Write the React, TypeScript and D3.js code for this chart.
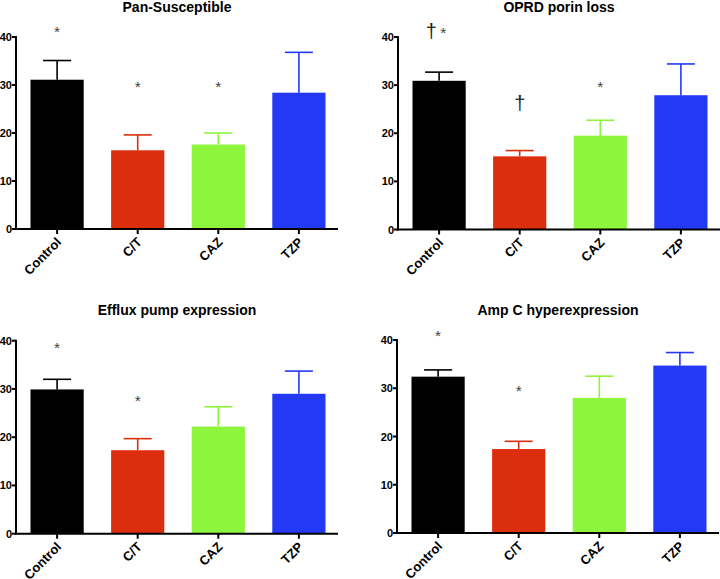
import React from "react";
import * as d3 from "d3";

const categories = ["Control", "C/T", "CAZ", "TZP"];
const titles = ["Pan-Susceptible", "OPRD porin loss", "Efflux pump expression", "Amp C hyperexpression"];
const means = [
  [31.1, 16.4, 17.6, 28.4],
  [30.9, 15.2, 19.5, 27.9],
  [29.9, 17.3, 22.2, 29.0],
  [32.4, 17.4, 28.0, 34.7],
];
const errors = [
  [4.0, 3.2, 2.4, 8.4],
  [1.8, 1.2, 3.2, 6.5],
  [2.1, 2.4, 4.1, 4.7],
  [1.4, 1.6, 4.5, 2.7],
];
const yTicks = [0, 10, 20, 30, 40];
// significance marks: [category index, symbol, value at text baseline]
const marks: [number, string, number][][] = [
  [[0, "*", 40], [1, "*", 28.5], [2, "*", 28.5]],
  [[0, "† *", 39.7], [1, "†", 24.9], [2, "*", 28.6]],
  [[0, "*", 37.5], [1, "*", 26.5]],
  [[0, "*", 39.8], [1, "*", 28.4]],
];

const colors = ["#000000", "#dc2d0c", "#8cf53c", "#2339f6"];
const font = "'Liberation Sans', Arial, sans-serif";

// panel placement: axis x, pixel of 0, pixel of 40
const layout = [
  { x: 16, y0: 229, y1: 37 },
  { x: 398, y0: 229.5, y1: 37 },
  { x: 16, y0: 533.7, y1: 340.7 },
  { x: 397, y0: 533, y1: 340 },
];

function Panel({ i }: { i: number }) {
  const { x, y0, y1 } = layout[i];
  const axisLen = 322;
  const xScale = d3.scaleBand<string>()
    .domain(categories)
    .range([x, x + axisLen + 2])
    .paddingInner(0.34)
    .paddingOuter(0.18);
  const yScale = d3.scaleLinear().domain([0, 40]).range([y0, y1]);
  const bw = xScale.bandwidth();
  const cx = (c: string) => (xScale(c) as number) + bw / 2;

  return (
    <g>
      <text x={x + axisLen / 2} y={y1 - 25.5} textAnchor="middle" fontFamily={font} fontWeight="bold" fontSize="14">
        {titles[i]}
      </text>
      {categories.map((c, j) => {
        const top = yScale(means[i][j]);
        const et = yScale(means[i][j] + errors[i][j]);
        return (
          <g key={c}>
            <line x1={cx(c)} x2={cx(c)} y1={top} y2={et} stroke={colors[j]} strokeWidth="1.6" />
            <line x1={cx(c) - 14} x2={cx(c) + 14} y1={et} y2={et} stroke={colors[j]} strokeWidth="1.6" />
            <rect x={xScale(c)} y={top} width={bw} height={y0 - top} fill={colors[j]} />
          </g>
        );
      })}
      {/* axes */}
      <line x1={x} x2={x} y1={y1 - 1} y2={y0 + 1} stroke="#000" strokeWidth="2" />
      <line x1={x - 1} x2={x + axisLen} y1={y0} y2={y0} stroke="#000" strokeWidth="2" />
      {yTicks.map((t) => (
        <g key={t}>
          <line x1={x - 4} x2={x} y1={yScale(t)} y2={yScale(t)} stroke="#000" strokeWidth="2" />
          <text x={x - 4} y={yScale(t) + 4} textAnchor="end" fontFamily={font} fontWeight="bold" fontSize="11">
            {t}
          </text>
        </g>
      ))}
      {categories.map((c) => (
        <g key={c}>
          <line x1={cx(c)} x2={cx(c)} y1={y0} y2={y0 + 5} stroke="#000" strokeWidth="2" />
          <text
            transform={`translate(${cx(c) + 5},${y0 + 14}) rotate(-45)`}
            textAnchor="end"
            fontFamily={font}
            fontWeight="bold"
            fontSize="13"
          >
            {c}
          </text>
        </g>
      ))}
      {marks[i].map(([j, s, v], k) => (
        <text
          key={k}
          x={cx(categories[j]) - (s.length > 1 ? 3 : 0)}
          y={yScale(v)}
          textAnchor="middle"
          fontFamily={font}
        >
          {s.split("").map((ch, n) =>
            ch === "†" ? (
              <tspan key={n} fontSize="20" fill="#222">{ch}</tspan>
            ) : ch === "*" ? (
              <tspan key={n} fontSize="15.5" fill="#444">{ch}</tspan>
            ) : (
              <tspan key={n} fontSize="12">{"\u00a0"}</tspan>
            )
          )}
        </text>
      ))}
    </g>
  );
}

export default function App() {
  return (
    <div style={{ position: "absolute", left: 0, top: 0 }}>
      <svg width={720} height={579} style={{ display: "block", background: "#fff" }}>
        {titles.map((_, i) => (
          <Panel key={i} i={i} />
        ))}
      </svg>
    </div>
  );
}
